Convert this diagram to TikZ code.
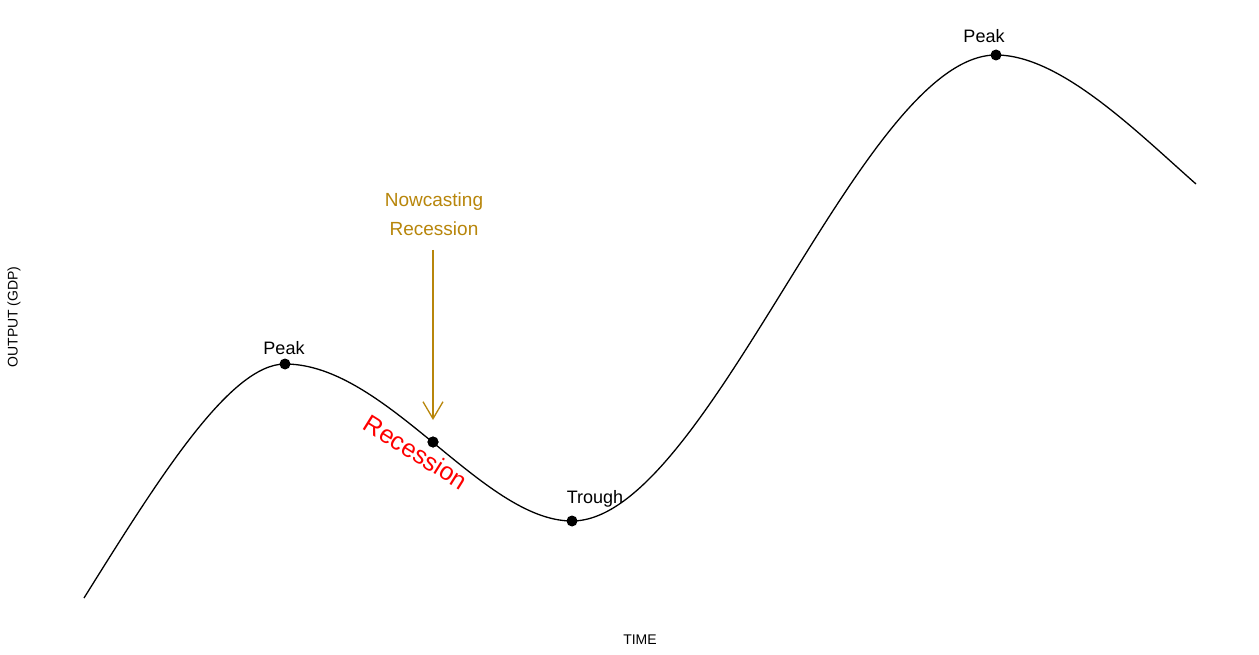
\documentclass[tikz,border=0pt]{standalone}
\usepackage{fontspec}
\setmainfont{Liberation Sans}
\usetikzlibrary{arrows.meta}
\definecolor{nowgold}{RGB}{184,134,11}
\begin{document}
\begin{tikzpicture}[x=1pt,y=-1pt,
  dot/.style={circle,fill=black,inner sep=0pt,minimum size=11pt},
  lbl/.style={font=\fontsize{18}{22}\selectfont,inner sep=0pt,anchor=base},
  axislbl/.style={font=\fontsize{14}{16}\selectfont,inner sep=0pt},
  curve/.style={line width=1.3pt,black},
  nowarrow/.style={line width=1.3pt,nowgold,-{Straight Barb[length=17pt,width=20pt,line width=1.3pt]}}]
\path[use as bounding box,fill=white] (0,0) rectangle (1259,655);
% key points
\coordinate (A) at (84,598);
\coordinate (E) at (1196,184);
\node[dot] (p1) at (285,364) {};
\node[dot] (tr) at (572,521) {};
\node[dot] (p2) at (996,55) {};
\node[dot] (inf) at (433,442) {};
% curve
\draw[curve] (A) .. controls (159,478) and (230,364) .. (p1.center)
  .. controls (386.6,364) and (482.4,521) .. (tr.center)
  .. controls (708,521) and (861,55) .. (p2.center)
  .. controls (1060,55) and (1136,131) .. (E);
\node[dot] at (inf) {};
% labels
\node[lbl] (lp1) at (284,354) {Peak};
\node[lbl] (ltr) at (595,503) {Trough};
\node[lbl] (lp2) at (984,43) {Peak};
\node[font=\fontsize{25}{28}\selectfont,text=red,rotate=-32,inner sep=0pt] (rec) at (416,452) {Recession};
% nowcasting
\node[font=\fontsize{19}{29}\selectfont,text=nowgold,align=center,inner sep=0pt] (nc) at (434,214) {Nowcasting\\Recession};
\coordinate (tip) at (433,420);
\draw[nowarrow] (433,250) -- (tip);
% axes labels
\node[axislbl] (time) at (640,640) {TIME};
\node[axislbl,rotate=90] (out) at (14,317) {OUTPUT (GDP)};
\end{tikzpicture}
\end{document}
